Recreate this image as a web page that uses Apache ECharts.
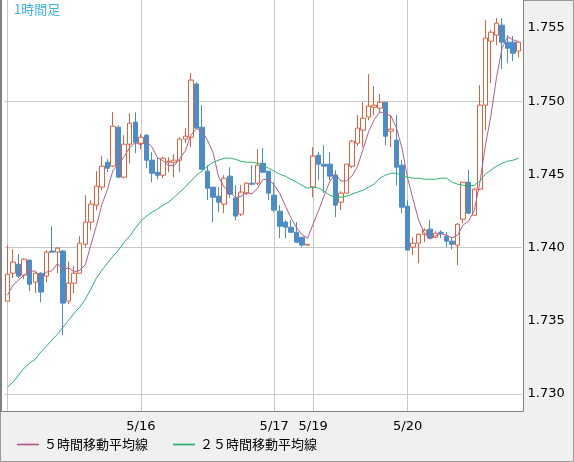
<!DOCTYPE html>
<html><head><meta charset="utf-8">
<script src="https://cdn.jsdelivr.net/npm/echarts@6/dist/echarts.min.js"></script>
<style>html,body{margin:0;padding:0;background:#f0f0f0}#c{width:574px;height:462px}</style>
</head><body><div id="c"></div>
<script>
// [open, close, low, high]
const ohlc = [
[1.73634,1.73819,1.73634,1.74017],[1.73825,1.73901,1.73791,1.73989],[1.73887,1.73805,1.73791,1.73955],[1.73812,1.73921,1.73784,1.73928],
[1.73914,1.73750,1.73703,1.73921],[1.73764,1.73825,1.73689,1.73832],[1.73825,1.73696,1.73627,1.73832],[1.73805,1.73969,1.73764,1.73983],
[1.73976,1.73969,1.73969,1.74146],[1.73969,1.73996,1.73825,1.74003],[1.73976,1.73621,1.73402,1.73983],[1.73634,1.73757,1.73614,1.73907],
[1.73757,1.73825,1.73689,1.73873],[1.73825,1.74030,1.73825,1.74078],[1.74023,1.74174,1.74003,1.74358],[1.74174,1.74297,1.74119,1.74324],
[1.74290,1.74420,1.74256,1.74522],[1.74413,1.74556,1.74392,1.74625],[1.74583,1.74542,1.74515,1.74604],[1.74556,1.74829,1.74549,1.74925],
[1.74822,1.74481,1.74474,1.74836],[1.74481,1.74706,1.74474,1.74768],[1.74706,1.74850,1.74576,1.74918],[1.74857,1.74720,1.74645,1.74925],
[1.74713,1.74754,1.74672,1.74775],[1.74768,1.74597,1.74542,1.74775],[1.74597,1.74508,1.74447,1.74652],[1.74515,1.74494,1.74467,1.74611],
[1.74494,1.74611,1.74474,1.74618],[1.74583,1.74590,1.74515,1.74618],[1.74583,1.74597,1.74481,1.74638],[1.74597,1.74741,1.74515,1.74754],
[1.74741,1.74761,1.74713,1.74816],[1.74754,1.75144,1.74686,1.75191],[1.75117,1.74816,1.74816,1.75130],[1.74822,1.74535,1.74535,1.74973],
[1.74522,1.74406,1.74324,1.74563],[1.74413,1.74344,1.74174,1.74413],[1.74351,1.74310,1.74242,1.74413],[1.74297,1.74474,1.74235,1.74494],
[1.74488,1.74365,1.74338,1.74549],[1.74338,1.74215,1.74187,1.74426],[1.74228,1.74379,1.74215,1.74426],[1.74372,1.74440,1.74358,1.74447],
[1.74440,1.74433,1.74426,1.74563],[1.74440,1.74563,1.74426,1.74672],[1.74576,1.74515,1.74508,1.74679],[1.74522,1.74372,1.74324,1.74522],
[1.74358,1.74256,1.74242,1.74447],[1.74249,1.74146,1.74065,1.74290],[1.74174,1.74139,1.74065,1.74187],[1.74139,1.74105,1.74098,1.74187],
[1.74105,1.74037,1.74030,1.74174],[1.74071,1.74017,1.74003,1.74071],[1.74017,1.74023,1.74017,1.74023],[1.74413,1.74625,1.74344,1.74686],
[1.74631,1.74570,1.74460,1.74652],[1.74570,1.74556,1.74372,1.74700],[1.74570,1.74488,1.74460,1.74652],[1.74494,1.74290,1.74208,1.74529],
[1.74310,1.74372,1.74256,1.74385],[1.74372,1.74570,1.74372,1.74570],[1.74556,1.74727,1.74542,1.74734],[1.74713,1.74816,1.74693,1.74905],
[1.74802,1.74884,1.74686,1.74993],[1.74891,1.74966,1.74870,1.75185],[1.74959,1.74973,1.74905,1.75103],[1.74952,1.74993,1.74918,1.75048],
[1.74993,1.74761,1.74700,1.74993],[1.74795,1.74809,1.74686,1.74905],[1.74734,1.74549,1.74426,1.74905],[1.74563,1.74276,1.74235,1.74597],
[1.74283,1.73983,1.73983,1.74324],[1.74003,1.74030,1.73948,1.74071],[1.74030,1.74091,1.73894,1.74098],[1.74091,1.74119,1.74037,1.74132],
[1.74126,1.74065,1.74058,1.74187],[1.74071,1.74098,1.74065,1.74112],[1.74105,1.74098,1.74065,1.74119],[1.74078,1.74044,1.74003,1.74105],
[1.74044,1.74023,1.73989,1.74071],[1.74017,1.74160,1.73880,1.74167],[1.74194,1.74447,1.74167,1.74447],[1.74447,1.74235,1.74228,1.74529],
[1.74221,1.74399,1.74215,1.74406],[1.74399,1.74973,1.74392,1.75110],[1.74973,1.75431,1.74802,1.75553],[1.75410,1.75471,1.75123,1.75485],
[1.75451,1.75533,1.75383,1.75567],[1.75519,1.75403,1.75219,1.75567],[1.75403,1.75362,1.75260,1.75451],[1.75403,1.75328,1.75273,1.75444],
[1.75342,1.75403,1.75301,1.75403]
];
const ma5Start = [1.73675,1.73744,1.73778,1.73812];
const ma25 = [
1.73047,1.73081,1.73129,1.73177,1.73211,1.73238,1.73286,1.73327,1.73368,1.73409,1.73457,1.73504,1.73552,1.73593,1.73648,1.73716,
1.73791,1.73846,1.73894,1.73942,1.73983,1.74037,1.74078,1.74132,1.74181,1.74215,1.74242,1.74263,1.74290,1.74310,1.74344,1.74379,
1.74413,1.74454,1.74494,1.74522,1.74556,1.74583,1.74597,1.74611,1.74611,1.74604,1.74590,1.74583,1.74583,1.74576,1.74563,1.74542,
1.74522,1.74501,1.74488,1.74467,1.74447,1.74426,1.74406,1.74413,1.74406,1.74385,1.74358,1.74344,1.74344,1.74351,1.74365,1.74379,
1.74392,1.74413,1.74433,1.74474,1.74494,1.74508,1.74508,1.74488,1.74481,1.74474,1.74474,1.74467,1.74467,1.74467,1.74474,1.74474,
1.74447,1.74433,1.74426,1.74420,1.74426,1.74454,1.74501,1.74529,1.74556,1.74576,1.74590,1.74597,1.74611
];
const dateLabels = {24:'5/16',48:'5/17',55:'5/19',72:'5/20'};
const vLines = [0,24,48,55,72];
const yTicks = [1.730,1.735,1.740,1.745,1.750,1.755];
const legendNames = ['５時間移動平均線','２５時間移動平均線'];

const cats = ohlc.map((d,i)=>String(i));
const ma5 = ohlc.map((d,i)=>{
  if(i<4) return ma5Start[i];
  let s=0; for(let k=i-4;k<=i;k++) s+=ohlc[k][1]; return +(s/5).toFixed(5);
});
const font = "'DejaVu Sans', sans-serif";
const chart = echarts.init(document.getElementById('c'));
chart.setOption({
  animation:false,
  backgroundColor:'#f0f0f0',
  graphic:[
    {type:'rect',shape:{x:0.5,y:0.5,width:573,height:461},style:{fill:'none',stroke:'#9a9a9a',lineWidth:1},z:-10},
    {type:'rect',shape:{x:1,y:0,width:522,height:411},style:{fill:'#fff',stroke:'none'},z:-9},
    {type:'line',shape:{x1:1,y1:0,x2:1,y2:411.5},style:{stroke:'#808080',lineWidth:2},z:10},
    {type:'line',shape:{x1:1,y1:411.5,x2:523.5,y2:411.5},style:{stroke:'#808080',lineWidth:1},z:10},
    {type:'line',shape:{x1:523.5,y1:0,x2:523.5,y2:411.5},style:{stroke:'#808080',lineWidth:1},z:10},
    {type:'text',left:14,top:3,style:{text:'1時間足',fill:'#3cb4ec',font:"13px 'Noto Sans CJK JP', sans-serif"},z:20}
  ],
  grid:{left:4.7,top:0,width:516.8,height:411,containLabel:false},
  xAxis:{type:'category',data:cats,boundaryGap:true,
    axisLine:{show:false},axisTick:{show:false},splitLine:{show:false},
    axisLabel:{interval:(i)=>dateLabels[i]!==undefined,formatter:(v,i)=>dateLabels[i]||'',
      color:'#000',fontFamily:font,fontSize:13,margin:9}},
  yAxis:{type:'value',position:'right',min:1.72884,max:1.75691,scale:true,
    axisLine:{show:false},axisTick:{show:false},splitLine:{show:false},
    axisLabel:{customValues:yTicks,formatter:(v)=>v.toFixed(3),color:'#000',fontFamily:font,fontSize:13,margin:6}},
  legend:{left:12,bottom:6,itemWidth:22,itemGap:25,icon:'path://M0,0H1V0.08H0Z',
    textStyle:{fontFamily:"'Noto Sans CJK JP', sans-serif",fontSize:13,color:'#000'},
    data:legendNames},
  series:[
    {type:'candlestick',data:ohlc,barWidth:5,z:3,
     itemStyle:{color:'#ffffff',color0:'#4d8cc4',borderColor:'#d9633e',borderColor0:'#4d8cc4',borderWidth:1},
     markLine:{silent:true,symbol:'none',label:{show:false},animation:false,z:1,
       lineStyle:{color:'#c8c8c8',type:'solid',width:1},
       data:[...vLines.map(i=>({xAxis:String(i)})),...yTicks.map(v=>({yAxis:v}))]}},
    {type:'line',name:legendNames[0],data:ma5,showSymbol:false,symbol:'none',z:4,
     lineStyle:{color:'#b35e8e',width:1},itemStyle:{color:'#b35e8e'}},
    {type:'line',name:legendNames[1],data:ma25,showSymbol:false,symbol:'none',z:4,
     lineStyle:{color:'#2db36e',width:1},itemStyle:{color:'#2db36e'}}
  ]
});
</script></body></html>
